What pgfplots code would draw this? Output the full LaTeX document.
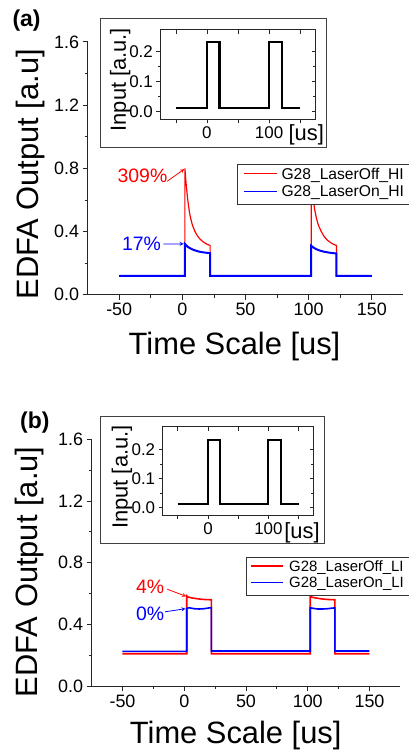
\documentclass[border=0pt]{standalone}
\usepackage{fontspec}
\setmainfont{Liberation Sans}
\usepackage{pgfplots}
\pgfplotsset{compat=1.18}
\newcommand\fs[1]{\fontsize{#1}{#1}\selectfont}

\pgfplotsset{
 mainax/.style={scale only axis,anchor=south west,axis lines=left,clip=false,
  axis line style={-,line width=0.9pt,black!85},
  xmin=-75,xmax=175,ymin=0,ymax=1.6,
  xtick={-50,0,50,100,150},xticklabels={-50,0,50,100,150},
  ytick={0,0.4,0.8,1.2,1.6},yticklabels={0.0,0.4,0.8,1.2,1.6},
  minor x tick num=1,minor y tick num=1,tick align=outside,
  major tick length=5pt,minor tick length=3pt,
  tick style={line width=0.8pt,black!85},
  tick label style={font=\fs{18}}},
 insetax/.style={scale only axis,anchor=south west,
  axis line style={line width=0.8pt,black!85},
  xmin=-75,xmax=175,
  xtick={-50,0,50,100,150},xticklabels={,0,,100,},
  ytick={0,0.1,0.2},yticklabels={0.0,0.1,0.2},minor y tick num=1,
  tick style={line width=0.7pt,black!85},major tick length=4pt,minor tick length=2.5pt,
  tick label style={font=\fs{17}}},
}
\tikzset{legbox/.style={draw=black!80,line width=0.8pt,fill=white,anchor=north west,inner xsep=0pt}}

\begin{document}
\begin{tikzpicture}[trim right=410pt]
\path (0pt,0pt) rectangle (410pt,-753pt);

% ---------------- panel (a)
\begin{axis}[mainax,at={(88pt,-296pt)},width=317pt,height=254pt]
\addplot[red,line width=1.2pt] coordinates {(-50,0.12)(2,0.12)(2,0.80)(2.5,0.75)(3,0.70)(4,0.62)(5,0.555)(6,0.505)(7,0.47)(8,0.44)(10,0.40)(12,0.372)(14,0.352)(16,0.338)(18,0.327)(20,0.318)(22,0.312)(22,0.12)(102,0.12)(102,0.72)(102.5,0.68)(103,0.645)(104,0.58)(105,0.53)(106,0.49)(107,0.46)(108,0.435)(110,0.40)(112,0.372)(114,0.352)(116,0.338)(118,0.327)(120,0.318)(122,0.312)(122,0.12)(150,0.12)};
\addplot[blue,line width=2pt] coordinates {(-50,0.12)(2,0.12)(2,0.322)(4,0.305)(6,0.295)(8,0.287)(10,0.281)(12,0.276)(14,0.272)(16,0.269)(18,0.267)(20,0.265)(22,0.264)(22,0.12)(102,0.12)(102,0.31)(104,0.298)(106,0.289)(108,0.282)(110,0.277)(112,0.273)(114,0.270)(116,0.267)(118,0.265)(120,0.263)(122,0.262)(122,0.12)(150,0.12)};
\node[legbox,inner ysep=2.6pt] at (rel axis cs:0.474,0.518) {\fontsize{15.7}{17.7}\selectfont
 \begin{tabular}{@{\hspace{6.3pt}}l@{\hspace{4.7pt}}l@{\hspace{8pt}}}
 \textcolor{red}{\rule[0.32em]{33pt}{1.2pt}} & G28\_LaserOff\_HI\\
 \textcolor{blue}{\rule[0.32em]{33pt}{1.2pt}} & G28\_LaserOn\_HI
 \end{tabular}};
\draw[red,-stealth,line width=0.8pt] (axis cs:-12,0.718) -- (axis cs:1.5,0.795);
\node[red,font=\fs{19.5}] at (axis cs:-31.6,0.75) {309\%};
\draw[blue,-stealth,line width=0.8pt] (axis cs:-15,0.321) -- (axis cs:1,0.322);
\node[blue,font=\fs{19.5}] at (axis cs:-32.3,0.321) {17\%};
\end{axis}
\node[font=\fs{31}] at (235.5pt,-347.5pt) {Time Scale [us]};
\node[font=\fs{31},rotate=90] at (30.8pt,-175pt) {EDFA Output [a.u]};
\node[font=\bfseries\fs{23}] at (26.7pt,-21pt) {(a)};

\draw[black!75,line width=0.9pt,fill=white] (101pt,-19pt) rectangle (328pt,-148pt);
\begin{axis}[insetax,at={(161pt,-120pt)},width=156pt,height=90pt,ymin=-0.027,ymax=0.273,
 xtick pos=left,ytick pos=left,tick align=outside]
\addplot[black,line width=2.5pt] coordinates {(-50,0.012)(0,0.012)(0,0.232)(20.5,0.232)(20.5,0.012)(100,0.012)(100,0.232)(120.5,0.232)(120.5,0.012)(150,0.012)};
\end{axis}
\begin{axis}[insetax,at={(161pt,-120pt)},width=156pt,height=90pt,ymin=-0.027,ymax=0.273,
 xtick pos=right,ytick pos=right,tick align=inside,xticklabels={},yticklabels={}]
\end{axis}
\node[font=\fs{22},rotate=90] at (120.8pt,-80pt) {Input [a.u.]};
\node[font=\fs{22}] at (307.5pt,-135pt) {[us]};

% ---------------- panel (b)
\begin{axis}[mainax,at={(92pt,-689pt)},width=310pt,height=248pt]
\addplot[red,line width=1.6pt] coordinates {(-50,0.21)(2,0.21)(2,0.585)(3,0.578)(6,0.572)(10,0.567)(14,0.563)(18,0.561)(22,0.56)(22,0.21)(102,0.21)(102,0.585)(103,0.578)(106,0.572)(110,0.567)(114,0.563)(118,0.561)(122,0.56)(122,0.21)(150,0.21)};
\addplot[blue,line width=1.6pt] coordinates {(-50,0.226)(2,0.226)(2,0.505)(4,0.508)(8,0.502)(12,0.50)(16,0.502)(20,0.507)(22,0.508)(22,0.228)(102,0.228)(102,0.508)(104,0.505)(108,0.50)(112,0.50)(116,0.502)(120,0.506)(122,0.507)(122,0.228)(150,0.228)};
\node[legbox,inner ysep=2.7pt] at (rel axis cs:0.499,0.524) {\fontsize{15}{16.6}\selectfont
 \begin{tabular}{@{\hspace{5pt}}l@{\hspace{6.7pt}}l@{\hspace{8pt}}}
 \textcolor{red}{\rule[0.32em]{31.6pt}{1.2pt}} & G28\_LaserOff\_LI\\
 \textcolor{blue}{\rule[0.32em]{31.6pt}{1.2pt}} & G28\_LaserOn\_LI
 \end{tabular}};
\draw[red,-stealth,line width=0.8pt] (axis cs:-13.7,0.628) -- (axis cs:1.5,0.582);
\node[red,font=\fs{19.5}] at (axis cs:-27.7,0.643) {4\%};
\draw[blue,-stealth,line width=0.8pt] (axis cs:-15.6,0.482) -- (axis cs:1,0.502);
\node[blue,font=\fs{19.5}] at (axis cs:-27.7,0.466) {0\%};
\end{axis}
\node[font=\fs{31}] at (236.7pt,-738.3pt) {Time Scale [us]};
\node[font=\fs{31},rotate=90] at (29.2pt,-574.2pt) {EDFA Output [a.u]};
\node[font=\bfseries\fs{23}] at (35pt,-424pt) {(b)};

\draw[black!75,line width=0.9pt,fill=white] (101pt,-417.7pt) rectangle (326pt,-545.7pt);
\begin{axis}[insetax,at={(163.3pt,-517.3pt)},width=151.7pt,height=89pt,ymin=-0.026,ymax=0.278,
 xtick pos=left,ytick pos=left,tick align=outside]
\addplot[black,line width=2.2pt] coordinates {(-50,0.012)(0,0.012)(0,0.232)(20.5,0.232)(20.5,0.012)(100,0.012)(100,0.232)(120.5,0.232)(120.5,0.012)(150,0.012)};
\end{axis}
\begin{axis}[insetax,at={(163.3pt,-517.3pt)},width=151.7pt,height=89pt,ymin=-0.026,ymax=0.278,
 xtick pos=right,ytick pos=right,tick align=inside,xticklabels={},yticklabels={}]
\end{axis}
\node[font=\fs{22},rotate=90] at (122.5pt,-479pt) {Input [a.u.]};
\node[font=\fs{22}] at (303.3pt,-535pt) {[us]};
\end{tikzpicture}
\end{document}
